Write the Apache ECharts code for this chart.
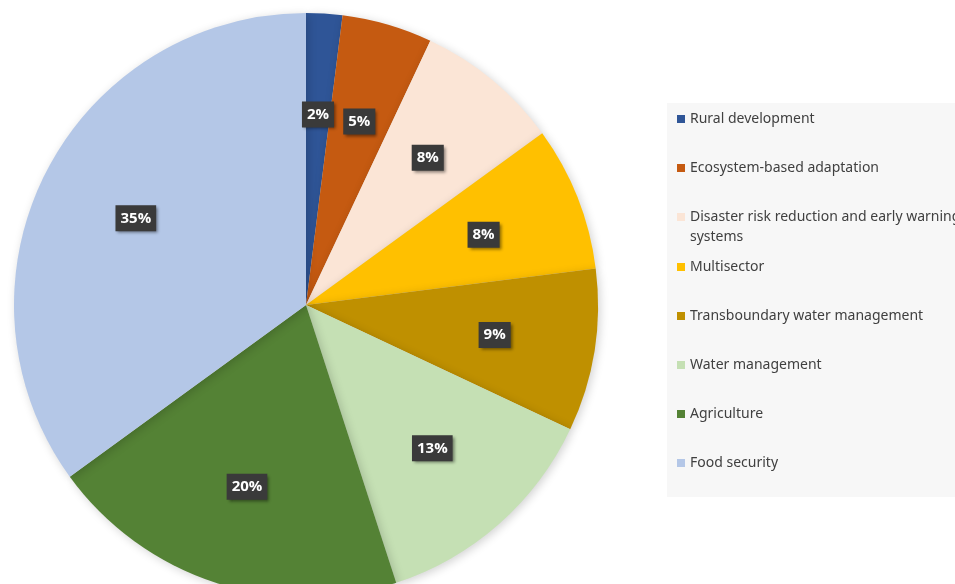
<!DOCTYPE html>
<html>
<head>
<meta charset="utf-8">
<script src="https://cdn.jsdelivr.net/npm/echarts@6/dist/echarts.min.js"></script>
<style>html,body{margin:0;padding:0;background:#fff;}#c{width:955px;height:584px;}</style>
</head>
<body>
<div id="c"></div>
<script>
const categories = ['Rural development','Ecosystem-based adaptation','Disaster risk reduction and early warning\nsystems','Multisector','Transboundary water management','Water management','Agriculture','Food security'];
const values = [2, 5, 8, 8, 9, 13, 20, 35];
const colors = ['#2F5597','#C55A11','#FBE5D6','#FFC000','#BF9000','#C5E0B4','#548235','#B4C7E7'];

const pieData = categories.map((n, i) => ({name: n, value: values[i], itemStyle: {color: colors[i]}}));

const legendText = {
  fontFamily: 'Noto Sans', fontSize: 14, color: '#404040', lineHeight: 20,
  rich: {
    a: {fontFamily: 'Noto Sans', fontSize: 14, color: '#404040', lineHeight: 20},
    b: {fontFamily: 'Noto Sans', fontSize: 14, color: '#404040', lineHeight: 0, height: 20, verticalAlign: 'top'}
  }
};
const legendFormatter = function (name) {
  const parts = name.split('\n');
  if (parts.length < 2) return name;
  return '{a|' + parts[0] + '}\n{b|' + parts[1] + '}';
};
const legendBase = {
  orient: 'vertical', left: 677, padding: 0,
  itemWidth: 8, itemHeight: 8, itemGap: 29, icon: 'rect',
  formatter: legendFormatter, textStyle: legendText
};

const chart = echarts.init(document.getElementById('c'));
chart.setOption({
  animation: false,
  graphic: [{
    type: 'rect', z: -10, silent: true,
    shape: {x: 667, y: 103, width: 300, height: 394},
    style: {fill: '#F7F7F7'}
  }],
  legend: [
    Object.assign({}, legendBase, {top: 109, data: categories.slice(0, 3)}),
    Object.assign({}, legendBase, {top: 257, data: categories.slice(3)})
  ],
  series: [
    {
      type: 'pie',
      center: [306, 305],
      radius: [0, 292],
      startAngle: 90,
      clockwise: true,
      silent: true,
      label: {show: false},
      labelLine: {show: false},
      itemStyle: {borderWidth: 0, shadowBlur: 10, shadowColor: 'rgba(0,0,0,0.18)', shadowOffsetX: 2, shadowOffsetY: 2},
      data: pieData
    },
    {
      type: 'pie',
      center: [306, 305],
      radius: [84, 292],
      startAngle: 90,
      clockwise: true,
      silent: true,
      itemStyle: {color: 'rgba(0,0,0,0)', borderWidth: 0},
      labelLine: {show: false},
      label: {
        show: true,
        position: 'inside',
        formatter: p => p.value + '%',
        color: '#ffffff',
        fontFamily: 'Open Sans',
        fontWeight: 'bold',
        fontSize: 15,
        backgroundColor: '#3A3A3A',
        padding: [6, 5, 5, 5],
        shadowColor: 'rgba(0,0,0,0.45)',
        shadowBlur: 3,
        shadowOffsetX: 2,
        shadowOffsetY: 2
      },
      data: categories.map((n, i) => ({name: n, value: values[i]}))
    }
  ]
});
</script>
</body>
</html>
